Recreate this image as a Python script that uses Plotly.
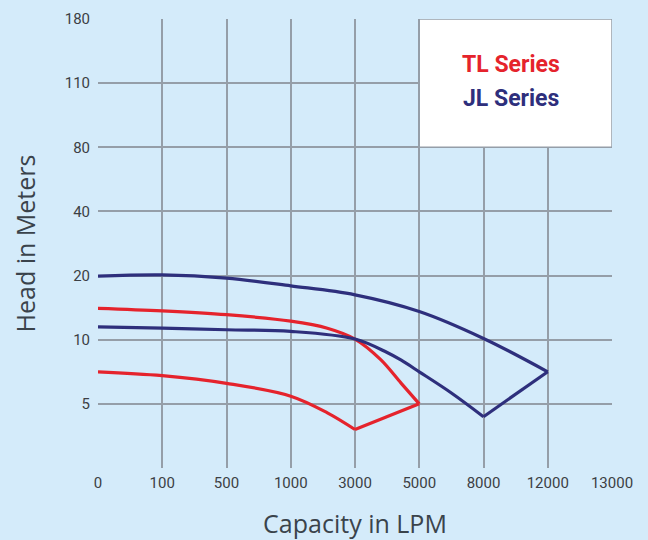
import numpy as np
import plotly.graph_objects as go

# Axis tick values (the chart uses evenly spaced, non-linear ticks)
X_TICKS = [0, 100, 500, 1000, 3000, 5000, 8000, 12000, 13000]
Y_TICKS = [0, 5, 10, 20, 40, 80, 110, 180]
Y_TICK_LABELS = ["", "5", "10", "20", "40", "80", "110", "180"]

# TL Series (red) - capacity in LPM, head in meters
tl_upper_lpm = [0, 100, 500, 1000, 2140, 3000, 3800, 4440, 5000]
tl_upper_head = [14.9, 14.5, 13.9, 12.9, 11.8, 10.1, 8.45, 6.6, 5.0]
tl_link_lpm = [5000, 3000]
tl_link_head = [5.0, 3.0]
tl_lower_lpm = [3000, 2140, 1000, 500, 100, 0]
tl_lower_head = [3.0, 4.3, 5.6, 6.6, 7.2, 7.5]

# JL Series (navy)
jl_upper_lpm = [0, 100, 500, 1000, 3000, 5000, 8000, 12000]
jl_upper_head = [19.9, 20.2, 19.6, 18.4, 17.0, 14.4, 10.2, 7.5]
jl_link_lpm = [12000, 8000]
jl_link_head = [7.5, 4.0]
jl_lower_lpm = [8000, 6500, 5000, 4440, 4000, 3000, 1000, 500, 100, 0]
jl_lower_head = [4.0, 5.85, 7.5, 8.4, 9.0, 10.1, 11.3, 11.55, 11.8, 12.0]

RED = "#E5232C"
NAVY = "#2E2F7C"
GRID = "#959ea8"
BG = "#D4EBFA"

xi = np.arange(len(X_TICKS))
yi = np.arange(len(Y_TICKS))


def px(v):
    return np.interp(v, X_TICKS, xi)


def py(v):
    return np.interp(v, Y_TICKS, yi)


fig = go.Figure()


def add(xs, ys, color, shape):
    fig.add_trace(go.Scatter(
        x=px(xs), y=py(ys), mode="lines",
        line=dict(color=color, width=3.2, shape=shape, smoothing=1.0),
        showlegend=False, hoverinfo="skip"))


add(tl_upper_lpm, tl_upper_head, RED, "spline")
add(tl_link_lpm, tl_link_head, RED, "linear")
add(tl_lower_lpm, tl_lower_head, RED, "spline")
add(jl_upper_lpm, jl_upper_head, NAVY, "spline")
add(jl_link_lpm, jl_link_head, NAVY, "linear")
add(jl_lower_lpm, jl_lower_head, NAVY, "spline")

# legend box
fig.add_shape(type="rect", x0=px(5000), x1=px(13000), y0=py(80), y1=py(180),
              xref="x", yref="y", fillcolor="white",
              line=dict(color=GRID, width=1.5), layer="between")
legend_font = "Roboto, Liberation Sans, Arial"
fig.add_annotation(x=0.803, y=0.898, xref="paper", yref="paper",
                   xanchor="center", yanchor="middle",
                   text="<b>TL Series</b>", showarrow=False,
                   font=dict(family=legend_font, size=23, color=RED))
fig.add_annotation(x=0.803, y=0.822, xref="paper", yref="paper",
                   xanchor="center", yanchor="middle",
                   text="<b>JL Series</b>", showarrow=False,
                   font=dict(family=legend_font, size=23, color=NAVY))

tick_font = dict(family="Roboto, Liberation Sans, DejaVu Sans", size=15, color="#3c3f44")
title_font = dict(family="Open Sans, Noto Sans", size=25, color="#3a434b")

fig.update_layout(
    width=648, height=540,
    margin=dict(l=98, r=36, t=19, b=72, autoexpand=False),
    paper_bgcolor=BG, plot_bgcolor=BG,
    xaxis=dict(range=[0, len(X_TICKS) - 1], tickvals=xi, ticktext=[str(v) for v in X_TICKS],
               showgrid=True, gridcolor=GRID, gridwidth=1.5, zeroline=False,
               showline=False, tickfont=tick_font, ticks="", ticklabelstandoff=4,
               title=dict(text="Capacity in LPM", font=title_font, standoff=31),
               fixedrange=True, automargin=False),
    yaxis=dict(range=[0, len(Y_TICKS) - 1], tickvals=yi, ticktext=Y_TICK_LABELS,
               showgrid=True, gridcolor=GRID, gridwidth=1.5, zeroline=False,
               showline=False, tickfont=tick_font, ticks="", ticklabelstandoff=7,
               title=dict(text="Head in Meters", font=title_font, standoff=21),
               fixedrange=True, automargin=False),
)

fig.write_html("out.html", config={"displayModeBar": False},
               post_script="document.body.style.margin='0';")
